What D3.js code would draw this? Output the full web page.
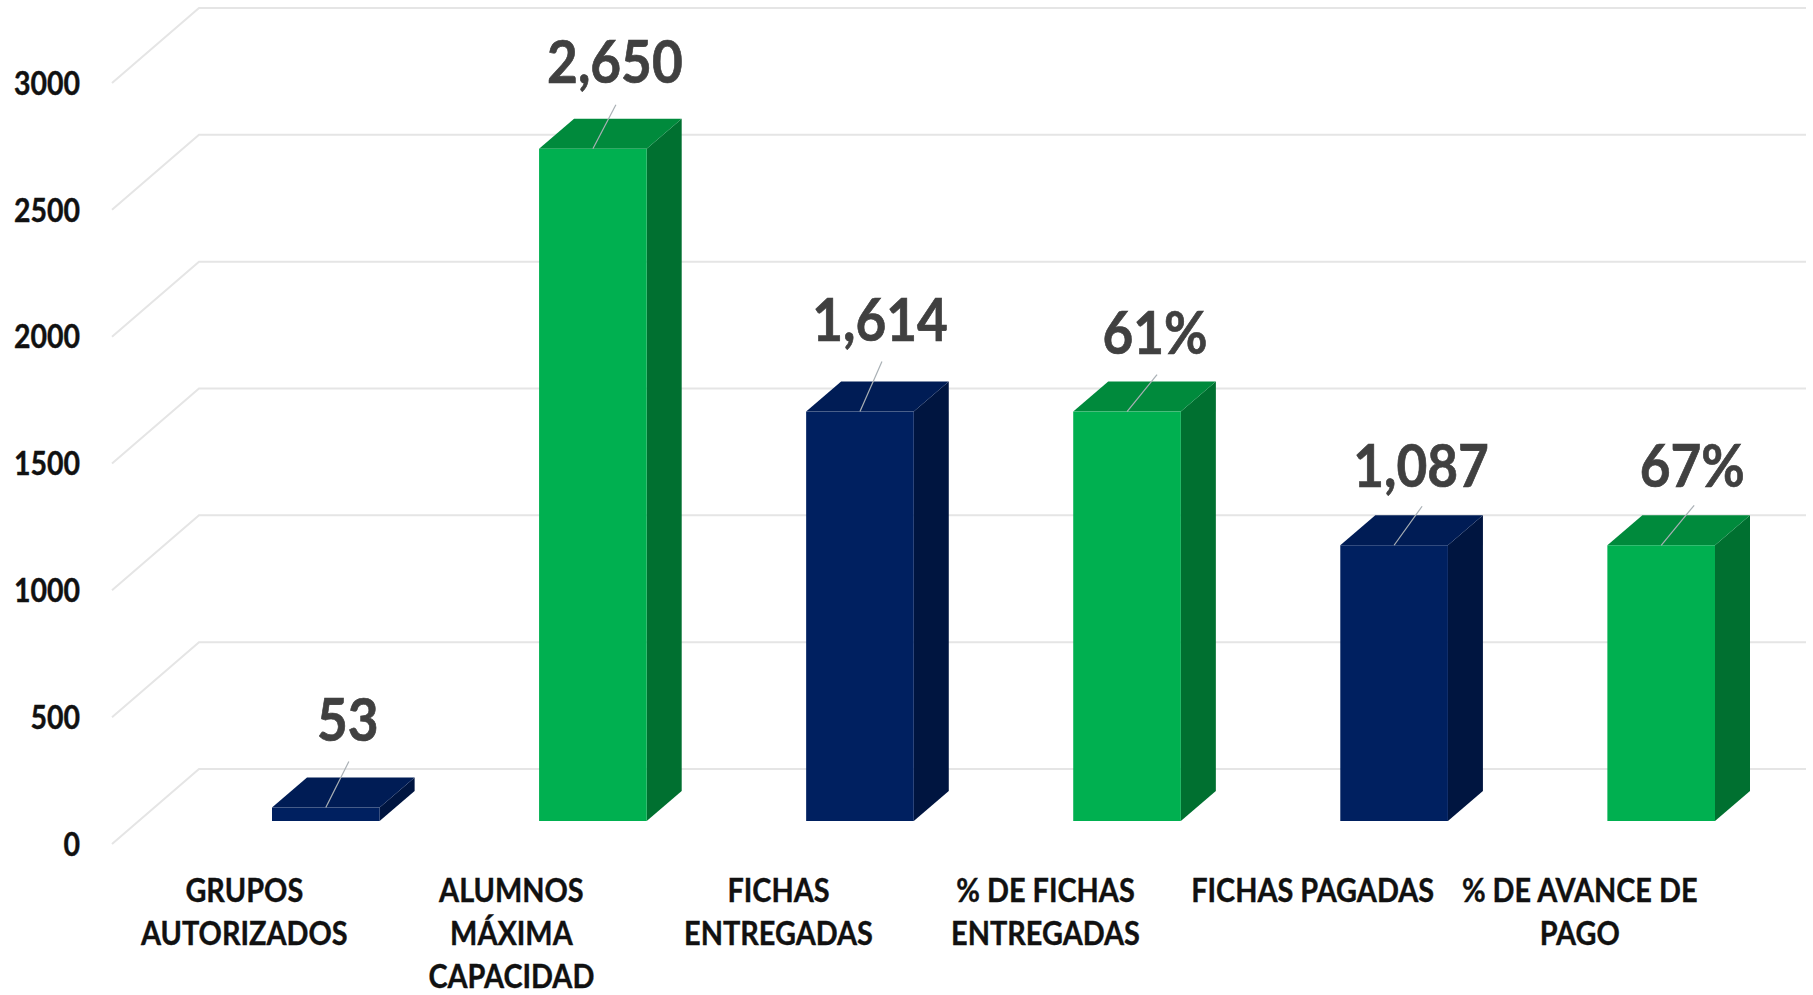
<!DOCTYPE html>
<html><head><meta charset="utf-8">
<script src="https://cdnjs.cloudflare.com/ajax/libs/d3/7.8.5/d3.min.js"></script>
<style>html,body{margin:0;background:#fff}svg{display:block}text{font-family:Lato,"Open Sans",sans-serif;font-weight:700}</style>
</head><body><svg id="c" width="1813" height="995"></svg>
<script>
const categories = ["GRUPOS AUTORIZADOS","ALUMNOS MÁXIMA CAPACIDAD","FICHAS ENTREGADAS","% DE FICHAS ENTREGADAS","FICHAS PAGADAS","% DE AVANCE DE PAGO"];
const categoryLines = [["GRUPOS","AUTORIZADOS"],["ALUMNOS","MÁXIMA","CAPACIDAD"],["FICHAS","ENTREGADAS"],["% DE FICHAS","ENTREGADAS"],["FICHAS PAGADAS"],["% DE AVANCE DE","PAGO"]];
const values = [53,2650,1614,1614,1087,1087];
const valueLabels = ["53","2,650","1,614","61%","1,087","67%"];
const seriesKind = ["navy","green","navy","green","navy","green"];
const yTicks = [0,500,1000,1500,2000,2500,3000];
const labelNudgeX = [22,22,20,28,27,31], labelNudgeY = [-89,-88,-93,-80,-81,-81];
const leaderEndX = [23,23,22,30,28,33], leaderEndY = [-46,-44,-50,-37,-39,-40];

const palette = {navy:{front:"#002060",top:"#001c55",side:"#001540"},green:{front:"#00B050",top:"#008a3c",side:"#007030"}};
const svg = d3.select("#c");
const y = d3.scaleLinear().domain([0,3000]).range([844,83]);
const x = d3.scaleBand().domain(categories).range([272,1715]).paddingInner(0.597).paddingOuter(0);
const wall = {x0:112,x1:199,x2:1806,dy:-75};
const barLift = -23, depthX = 35, depthY = -30;

// gridlines: side wall diagonal + back wall
const grid = svg.append("g").attr("fill","none").attr("stroke","#e5e5e5").attr("stroke-width",2);
grid.selectAll("path").data(yTicks).join("path")
  .attr("d",d=>d3.line()([[wall.x0,y(d)],[wall.x1,y(d)+wall.dy],[wall.x2,y(d)+wall.dy]]));

// value axis
const gy = svg.append("g").attr("transform","translate(80,1)")
  .call(d3.axisLeft(y).tickValues(yTicks).tickSize(0).tickPadding(0).tickFormat(d3.format("d")));
gy.select(".domain").remove();
gy.selectAll("text").attr("font-size",32).attr("fill","#111").attr("font-family","Lato").attr("font-weight",700)
  .attr("stroke","#111").attr("stroke-width",0.4).attr("transform","scale(0.89,1)");

// bars
const bars = svg.append("g").selectAll("g").data(categories).join("g");
const by = v=>y(v)+barLift;
bars.append("path").attr("fill",(c,i)=>palette[seriesKind[i]].side)
  .attr("d",(c,i)=>{const r=x(c)+x.bandwidth();return d3.line()([[r,by(0)],[r+depthX,by(0)+depthY],[r+depthX,by(values[i])+depthY],[r,by(values[i])]])+"Z";});
bars.append("path").attr("fill",(c,i)=>palette[seriesKind[i]].top)
  .attr("d",(c,i)=>{const l=x(c),r=l+x.bandwidth(),t=by(values[i]);return d3.line()([[l,t],[l+depthX,t+depthY],[r+depthX,t+depthY],[r,t]])+"Z";});
bars.append("rect").attr("fill",(c,i)=>palette[seriesKind[i]].front)
  .attr("x",c=>x(c)).attr("width",x.bandwidth())
  .attr("y",(c,i)=>by(values[i])).attr("height",(c,i)=>by(0)-by(values[i]));

// leaders + value labels
bars.append("line").attr("stroke","#a9b0b5").attr("stroke-width",1.2)
  .attr("x1",c=>x(c)+x.bandwidth()/2).attr("y1",(c,i)=>by(values[i]))
  .attr("x2",(c,i)=>x(c)+x.bandwidth()/2+leaderEndX[i]).attr("y2",(c,i)=>by(values[i])+leaderEndY[i]);
bars.append("text").attr("text-anchor","middle").attr("dominant-baseline","central")
  .attr("font-size",59).attr("fill","#404040").attr("stroke","#404040").attr("stroke-width",0.7)
  .attr("transform",(c,i)=>`translate(${x(c)+x.bandwidth()/2+labelNudgeX[i]},${by(values[i])+labelNudgeY[i]}) scale(0.9,1)`)
  .text((c,i)=>valueLabels[i]);

// category axis
const gx = svg.append("g").attr("transform","translate(-81.5,0)").call(d3.axisBottom(x).tickSize(0).tickFormat(""));
gx.select(".domain").remove();
gx.selectAll(".tick text").each(function(c,i){
  const t=d3.select(this).attr("y",0).attr("dy",null).attr("text-anchor","middle").attr("font-size",33).attr("fill","#111").attr("font-family","Lato").attr("font-weight",700)
    .attr("stroke","#111").attr("stroke-width",0.4).attr("transform","scale(0.875,1)");
  t.selectAll("tspan").data(categoryLines[i]).join("tspan").attr("x",0).attr("y",(d,j)=>902+43*j).text(d=>d);
});
</script></body></html>
